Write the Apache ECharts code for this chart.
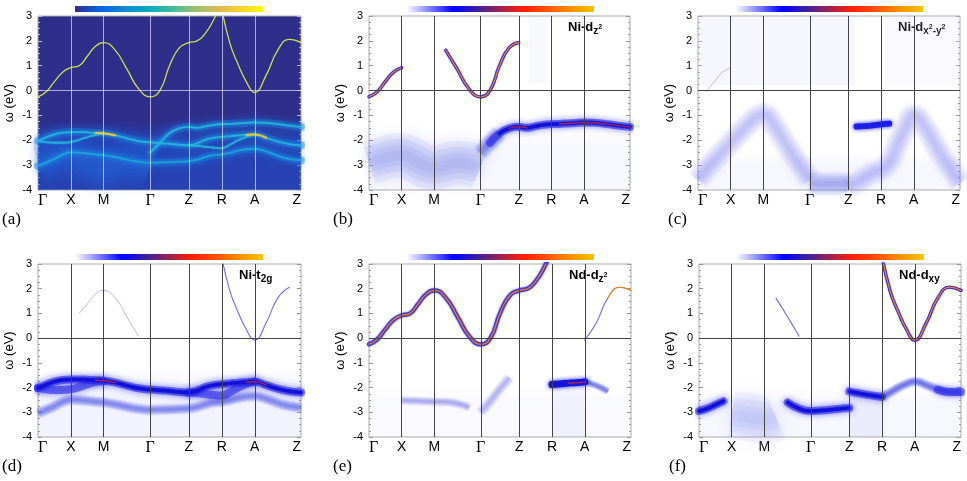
<!DOCTYPE html>
<html>
<head>
<meta charset="utf-8">
<script src="https://cdn.jsdelivr.net/npm/echarts@6/dist/echarts.min.js"></script>
<style>html,body{margin:0;padding:0;background:#fff}#chart{width:967px;height:481px}</style>
</head>
<body>
<div id="chart"></div>
<script>
var _ = null;
// k path: high-symmetry points and the sampled k grid (4 steps per segment)
var kNodes = [0, 0.5, 1.0, 1.707, 2.297, 2.797, 3.297, 4.004];
var kLabels = ['Γ', 'X', 'M', 'Γ', 'Z', 'R', 'A', 'Z'];
var kGrid = [0, 0.125, 0.25, 0.375, 0.5, 0.625, 0.75, 0.875, 1.0,
  1.177, 1.354, 1.530, 1.707, 1.855, 2.002, 2.150, 2.297,
  2.422, 2.547, 2.672, 2.797, 2.922, 3.047, 3.172, 3.297,
  3.474, 3.651, 3.827, 4.004];
var yTicks = [-4, 3, 1];

// band energies (eV), one value per kGrid point
var bandNd = [-0.25, -0.05, 0.36, 0.74, 0.92, 1.0, 1.38, 1.78, 1.93, 1.62, 0.86, 0.08, -0.25,
  0.0, 1.0, 1.72, 1.93, 2.0, 2.3, 2.84, 3.6, _, _, _, _, _, _, _, _];
var bandA = [_, _, _, _, _, _, _, _, _, _, _, _, _, _, _, _, _, _, _, _,
  3.3, 1.9, 1.05, 0.35, -0.08, 0.62, 1.63, 2.06, 1.93];
var t2gTop = [-2.02, -1.88, -1.76, -1.69, -1.67, -1.67, -1.68, -1.70, -1.72, -1.80, -1.92, -2.03, -2.08,
  -2.11, -2.14, -2.18, -2.2, -2.12, -1.98, -1.9, -1.86, -1.83, -1.80, -1.78, -1.76, -1.9, -2.05, -2.15, -2.2];
var t2gMid = [-2.02, -2.07, -2.1, -2.1, -2.07, -1.98, -1.87, -1.78, -1.74, _, _, _, _,
  _, _, _, -2.2, -2.22, -2.26, -2.3, -2.32, -2.18, -2.0, -1.86, -1.76, _, _, _, _];
var t2gLow = [-3.03, -2.9, -2.75, -2.58, -2.49, -2.5, -2.53, -2.57, -2.6, -2.68, -2.78, -2.86, -2.9,
  -2.89, -2.88, -2.86, -2.84, -2.78, -2.68, -2.6, -2.57, -2.5, -2.42, -2.36, -2.34, -2.45, -2.62, -2.75, -2.8];
var dz2Flat = [_, _, _, _, _, _, _, _, _, _, _, _, -2.5,
  -2.1, -1.72, -1.52, -1.46, -1.5, -1.44, -1.38, -1.35, -1.34, -1.32, -1.3, -1.28, -1.3, -1.35, -1.41, -1.46];
var dz2Hump = [-2.9, -2.8, -2.7, -2.62, -2.6, -2.7, -2.9, -3.05, -3.1, -3.0, -2.9, -2.95, -3.1,
  _, _, _, _, _, _, _, _, _, _, _, _, _, _, _, _];
var x2y2Left = [-3.6, -3.2, -2.8, -2.45, -2.1, -1.75, -1.4, -1.1, -0.95, -1.45, -2.2, -2.9, -3.6,
  _, _, _, _, _, _, _, _, _, _, _, _, _, _, _, _];
var x2y2Bottom = [_, _, _, _, _, _, _, _, _, _, _, _, -3.75, -3.75, -3.75, -3.75, -3.78,
  _, _, _, _, _, _, _, _, _, _, _, _];
var x2y2Right = [_, _, _, _, _, _, _, _, _, _, _, _, _, _, _, _, -3.9,
  -3.7, -3.5, -3.3, -3.2, -2.9, -2.2, -1.5, -1.0, -1.5, -2.3, -3.0, -3.7];
var x2y2Flat = [_, _, _, _, _, _, _, _, _, _, _, _, _, _, _, _, _,
  -1.45, -1.43, -1.4, -1.36, -1.33, _, _, _, _, _, _, _];
var ndRAFlat = [_, _, _, _, _, _, _, _, _, _, _, _, _, _, _, _, _, _, _, _,
  -1.88, -1.85, -1.82, -1.8, -1.77, -1.92, -2.15, _, _];
var ndLowXM = [_, _, _, _, -2.52, -2.53, -2.54, -2.56, -2.57, -2.58, -2.65, -2.8, _,
  _, _, _, _, _, _, _, _, _, _, _, _, _, _, _, _];
var ndLowGZ = [_, _, _, _, _, _, _, _, _, _, _, _, -3.0, -2.55, -2.05, -1.6,
  _, _, _, _, _, _, _, _, _, _, _, _, _];
var xyGX = [-2.95, -2.85, -2.7, -2.55, _, _, _, _, _, _, _, _, _,
  _, _, _, _, _, _, _, _, _, _, _, _, _, _, _, _];
var xyDiffuse = [_, _, _, _, -3.1, -3.15, -3.2, -3.25, -3.3, -3.2, _, _, _,
  _, _, _, _, _, _, _, _, _, _, _, _, _, _, _, _];
var xyMGZ = [_, _, _, _, _, _, _, _, _, _, -2.6, -2.85, -2.95, -2.93, -2.9, -2.86, -2.83,
  _, _, _, _, _, _, _, _, _, _, _, _];
var xyZR = [_, _, _, _, _, _, _, _, _, _, _, _, _, _, _, _, -2.15, -2.22, -2.28, -2.33, -2.38,
  _, _, _, _, _, _, _, _];
var xyRAZ = [_, _, _, _, _, _, _, _, _, _, _, _, _, _, _, _, _, _, _, _,
  -2.38, -2.2, -2.0, -1.85, -1.75, -1.9, -2.08, -2.18, -2.18];

var panelTags = ['(a)', '(b)', '(c)', '(d)', '(e)', '(f)'];
var panelTitles = ['', '{m|Ni-d}{s|z}{p|2}', '{m|Ni-d}{s|x}{p|2}{s|-y}{p|2}',
  '{m|Ni-t}{s|2g}', '{m|Nd-d}{s|z}{p|2}', '{m|Nd-d}{s|xy}'];

var chart = echarts.init(document.getElementById('chart'));

var gridBox = [
  [38, 16, 263, 174], [369, 16, 261, 174], [698, 16, 262, 174],
  [38, 264, 263, 173], [369, 264, 262, 173], [699, 264, 262, 173]
];

function pts(ys, i0, i1) {
  var out = [];
  for (var i = i0; i <= i1; i++) out.push([kGrid[i], ys[i]]);
  return out;
}
function band(g, ys, i0, i1, st) {
  return {
    type: 'line', xAxisIndex: g, yAxisIndex: g * 2, data: pts(ys, i0, i1),
    smooth: 0.5, showSymbol: false, silent: true, clip: true, z: st.z || 3,
    lineStyle: { color: st.c, width: st.w, opacity: st.o == null ? 1 : st.o,
      shadowBlur: st.b || 0, shadowColor: st.c, cap: st.cap || 'round' }
  };
}
// broadened band: several translucent strokes of decreasing width
function soft(list, g, ys, i0, i1, c, w, a) {
  [1, 0.72, 0.46, 0.22].forEach(function (f) {
    list.push(band(g, ys, i0, i1, { c: c, w: w * f, o: a, b: w * 0.3, cap: 'butt', z: 2 }));
  });
}

var S = {
  broadHalo: { c: '#2323e6', w: 8, o: 0.55, b: 6 },
  broadCore: { c: '#1010d8', w: 3.5, o: 0.9, b: 2 },
  hotCore: { c: '#c42a3a', w: 1.5, o: 0.8 },
  thinHalo: { c: '#3a2ad0', w: 3.2, o: 0.85, b: 1 },
  thinCore: { c: '#ff8a00', w: 1.1 },
  thinBlue: { c: '#4a4ae6', w: 1.1, o: 0.8 },
  faint: { c: '#8c8cf0', w: 1, o: 0.6 },
  aHalo: { c: '#1a78e0', w: 8, o: 0.45, b: 8 },
  aCore: { c: '#24b4dc', w: 1.8, o: 0.85, b: 2 },
  aHot: { c: '#e8c838', w: 1.8, o: 0.9, b: 2 },
  aLine: { c: '#c8e448', w: 1.3 }
};

var series = [];
// (a) total spectral function
soft(series, 0, dz2Hump, 0, 12, '#2a68e0', 44, 0.12);
[t2gLow, t2gTop, dz2Flat].forEach(function (b) { series.push(band(0, b, 0, 28, S.aHalo)); });
series.push(band(0, t2gLow, 0, 28, { c: '#20a8dc', w: 1.8, o: 0.7, b: 2 }));
series.push(band(0, t2gMid, 0, 8, S.aCore));
series.push(band(0, t2gMid, 16, 24, S.aCore));
series.push(band(0, t2gTop, 0, 28, S.aCore));
series.push(band(0, dz2Flat, 12, 28, S.aCore));
series.push(band(0, t2gTop, 7, 9, S.aHot));
series.push(band(0, t2gTop, 23, 25, S.aHot));
series.push(band(0, bandNd, 0, 20, S.aLine));
series.push(band(0, bandA, 20, 28, S.aLine));
// (b) Ni-dz2
soft(series, 1, dz2Hump, 0, 12, '#8088ee', 44, 0.1);
soft(series, 1, dz2Flat, 12, 14, '#5058e8', 16, 0.12);
series.push(band(1, dz2Flat, 13, 28, S.broadHalo));
series.push(band(1, dz2Flat, 14, 28, S.broadCore));
series.push(band(1, dz2Flat, 15, 17, S.hotCore));
series.push(band(1, dz2Flat, 21, 28, S.hotCore));
series.push(band(1, bandNd, 0, 4, S.thinHalo));
series.push(band(1, bandNd, 0, 4, S.thinCore));
series.push(band(1, bandNd, 9, 16, S.thinHalo));
series.push(band(1, bandNd, 9, 16, S.thinCore));
// (c) Ni-dx2-y2
soft(series, 2, x2y2Left, 0, 12, '#7c84ec', 22, 0.08);
soft(series, 2, x2y2Bottom, 12, 16, '#7c84ec', 22, 0.12);
soft(series, 2, x2y2Right, 16, 28, '#7c84ec', 22, 0.08);
series.push(band(2, x2y2Flat, 17, 21, { c: '#1a1ae6', w: 6, o: 0.95, b: 4 }));
series.push(band(2, bandNd, 1, 4, S.faint));
// (d) Ni-t2g
soft(series, 3, t2gLow, 0, 28, '#4048e6', 10, 0.12);
series.push(band(3, t2gMid, 0, 8, S.broadHalo));
series.push(band(3, t2gMid, 16, 24, S.broadHalo));
series.push(band(3, t2gTop, 0, 28, S.broadHalo));
series.push(band(3, t2gTop, 0, 28, S.broadCore));
series.push(band(3, t2gTop, 7, 9, S.hotCore));
series.push(band(3, t2gTop, 23, 25, S.hotCore));
series.push(band(3, bandNd, 5, 11, S.faint));
series.push(band(3, bandA, 20, 27, S.thinBlue));
// (e) Nd-dz2
soft(series, 4, ndLowXM, 4, 11, '#6068e8', 8, 0.09);
soft(series, 4, ndLowGZ, 12, 15, '#6068e8', 10, 0.08);
series.push(band(4, ndRAFlat, 20, 24, { c: '#1212d8', w: 7, o: 0.95, b: 4 }));
series.push(band(4, ndRAFlat, 22, 24, S.hotCore));
soft(series, 4, ndRAFlat, 24, 26, '#4048e6', 7, 0.14);
series.push(band(4, bandNd, 0, 20, { c: '#3a2ad0', w: 4.2, o: 0.8, b: 2 }));
series.push(band(4, bandNd, 0, 20, S.thinCore));
series.push(band(4, bandA, 24, 28, S.thinBlue));
series.push(band(4, bandA, 26, 28, S.thinCore));
// (f) Nd-dxy
soft(series, 5, xyDiffuse, 4, 9, '#8088ee', 48, 0.07);
series.push(band(5, xyGX, 0, 3, S.broadHalo));
series.push(band(5, xyGX, 0, 3, S.broadCore));
series.push(band(5, xyMGZ, 10, 16, S.broadHalo));
series.push(band(5, xyMGZ, 10, 16, S.broadCore));
series.push(band(5, xyZR, 16, 20, S.broadHalo));
series.push(band(5, xyZR, 16, 20, S.broadCore));
soft(series, 5, xyRAZ, 20, 28, '#3038e6', 9, 0.14);
series.push(band(5, xyRAZ, 26, 28, S.broadHalo));
series.push(band(5, bandNd, 9, 11, S.thinBlue));
series.push(band(5, bandA, 20, 28, S.thinHalo));
series.push(band(5, bandA, 20, 28, S.thinCore));

// reference lines at high-symmetry points and the Fermi level, plus faint washes
var lowWash = function (c, a) {
  return { type: 'linear', x: 0, y: 0, x2: 0, y2: 1, colorStops: [
    { offset: 0, color: 'rgba(' + c + ',0)' }, { offset: 0.3, color: 'rgba(' + c + ',' + a + ')' },
    { offset: 1, color: 'rgba(' + c + ',' + a + ')' }] };
};
var washes = [
  [[{ yAxis: -1.2, itemStyle: { color: lowWash('30,90,225', 0.45) } }, { yAxis: -4 }]],
  [[{ yAxis: -1.5, itemStyle: { color: lowWash('150,155,240', 0.08) } }, { yAxis: -4 }],
   [{ xAxis: 2.45, yAxis: 3, itemStyle: { color: 'rgba(200,205,245,0.12)' } }, { xAxis: 2.75, yAxis: 0.3 }]],
  [[{ xAxis: 0, yAxis: 3, itemStyle: { color: 'rgba(215,218,250,0.22)' } }, { xAxis: 2.4, yAxis: 0.2 }],
   [{ xAxis: 2.85, yAxis: 3, itemStyle: { color: 'rgba(215,218,250,0.16)' } }, { xAxis: 4.004, yAxis: 0.2 }],
   [{ yAxis: -2.5, itemStyle: { color: lowWash('150,155,240', 0.08) } }, { yAxis: -4 }]],
  [[{ yAxis: -1.2, itemStyle: { color: lowWash('150,155,240', 0.12) } }, { yAxis: -4 }]],
  [[{ yAxis: -2, itemStyle: { color: lowWash('150,155,240', 0.06) } }, { yAxis: -4 }],
   [{ xAxis: 2.797, yAxis: -2, itemStyle: { color: 'rgba(180,185,245,0.12)' } }, { xAxis: 3.297, yAxis: -4 }]],
  [[{ yAxis: -2, itemStyle: { color: lowWash('150,155,240', 0.08) } }, { yAxis: -4 }],
   [{ xAxis: 2.297, yAxis: -2.2, itemStyle: { color: 'rgba(160,165,240,0.14)' } }, { xAxis: 2.797, yAxis: -4 }]]
];
for (var g = 0; g < 6; g++) {
  var lineCol = g === 0 ? 'rgba(225,225,255,0.7)' : '#444';
  var ml = kNodes.slice(1, 7).map(function (k) { return { xAxis: k }; });
  ml.push({ yAxis: 0 });
  series.push({ type: 'line', xAxisIndex: g, yAxisIndex: g * 2, data: [], silent: true, z: 1,
    markArea: { silent: true, data: washes[g] } });
  series.push({ type: 'line', xAxisIndex: g, yAxisIndex: g * 2, data: [], silent: true, z: 10,
    markLine: { silent: true, symbol: ['none', 'none'], label: { show: false }, animation: false,
      lineStyle: { type: 'solid', width: 1, color: lineCol }, data: ml } });
}

var grids = [], xAxes = [], yAxes = [], graphics = [];
gridBox.forEach(function (b, g) {
  var dark = g === 0;
  var tickCol = dark ? '#b8b8d8' : '#999';
  grids.push({ left: b[0], top: b[1], width: b[2], height: b[3], show: true,
    backgroundColor: dark ? '#2f2e8b' : '#fff', borderColor: '#aaa', borderWidth: 1 });
  xAxes.push({ type: 'value', gridIndex: g, min: kNodes[0], max: kNodes[7],
    axisLine: { show: false }, axisTick: { show: false }, splitLine: { show: false },
    axisLabel: { customValues: kNodes, margin: 3, fontSize: 14, color: '#000',
      fontFamily: 'Liberation Sans', alignMinLabel: 'left', alignMaxLabel: 'right',
      formatter: function (v) {
        var i = 0, d = 1e9;
        kNodes.forEach(function (k, j) { if (Math.abs(k - v) < d) { d = Math.abs(k - v); i = j; } });
        return kLabels[i] === 'Γ' ? '{g|Γ}' : kLabels[i];
      },
      rich: { g: { fontFamily: 'Liberation Serif', fontSize: 16, color: '#000' } } } });
  [0, 1].forEach(function (side) {
    yAxes.push({ type: 'value', gridIndex: g, min: yTicks[0], max: yTicks[1], interval: yTicks[2],
      position: side ? 'right' : 'left',
      name: side ? '' : 'ω (eV)', nameLocation: 'middle', nameGap: 22,
      nameTextStyle: { fontSize: 13, color: '#000', fontFamily: 'Liberation Sans' },
      axisLine: { show: false }, splitLine: { show: false },
      axisTick: { show: true, inside: true, length: 4, lineStyle: { color: tickCol } },
      minorTick: { show: true, splitNumber: 4, length: 2, lineStyle: { color: tickCol } },
      axisLabel: { show: !side, fontSize: 11, margin: 6, color: '#000', fontFamily: 'Liberation Sans' } });
  });
  // colour bar
  var cbStops = dark ?
    ['#352a87', '#0363e1', '#1485d4', '#06a7c6', '#38b99e', '#92bf73', '#d9ba56', '#fcce2e', '#f9fb0e'] :
    ['#ffffff', '#8080ff', '#0000ff', '#3a1fa0', '#a02050', '#ff2000', '#ff5000', '#ff9000', '#ffc400'];
  graphics.push({ type: 'rect', silent: true,
    shape: { x: b[0] + 37, y: b[1] - 10, width: 188, height: 6 },
    style: { fill: { type: 'linear', x: 0, y: 0, x2: 1, y2: 0,
      colorStops: cbStops.map(function (c, i) { return { offset: i / (cbStops.length - 1), color: c }; }) } } });
  // panel tag
  graphics.push({ type: 'text', silent: true, x: b[0] - 36 + (g % 3 === 2 ? 6 : 0), y: b[1] + b[3] + 30,
    style: { text: panelTags[g], fontFamily: 'Liberation Serif', fontSize: 17, fill: '#000',
      verticalAlign: 'middle' } });
  if (panelTitles[g]) {
    graphics.push({ type: 'text', silent: true, x: b[0] + b[2] - 62, y: b[1] + 11,
      style: { text: panelTitles[g], verticalAlign: 'middle', fill: '#000',
        rich: {
          m: { fontSize: 13, fontWeight: 'bold', fontFamily: 'Liberation Sans', lineHeight: 18, verticalAlign: 'middle' },
          s: { fontSize: 10, fontWeight: 'bold', fontFamily: 'Liberation Sans', lineHeight: 18, verticalAlign: 'bottom' },
          p: { fontSize: 7, fontWeight: 'bold', fontFamily: 'Liberation Sans', lineHeight: 18, verticalAlign: 'middle' }
        } } });
  }
});

chart.setOption({
  animation: false,
  grid: grids,
  xAxis: xAxes,
  yAxis: yAxes,
  graphic: graphics,
  series: series
});
</script>
</body>
</html>
